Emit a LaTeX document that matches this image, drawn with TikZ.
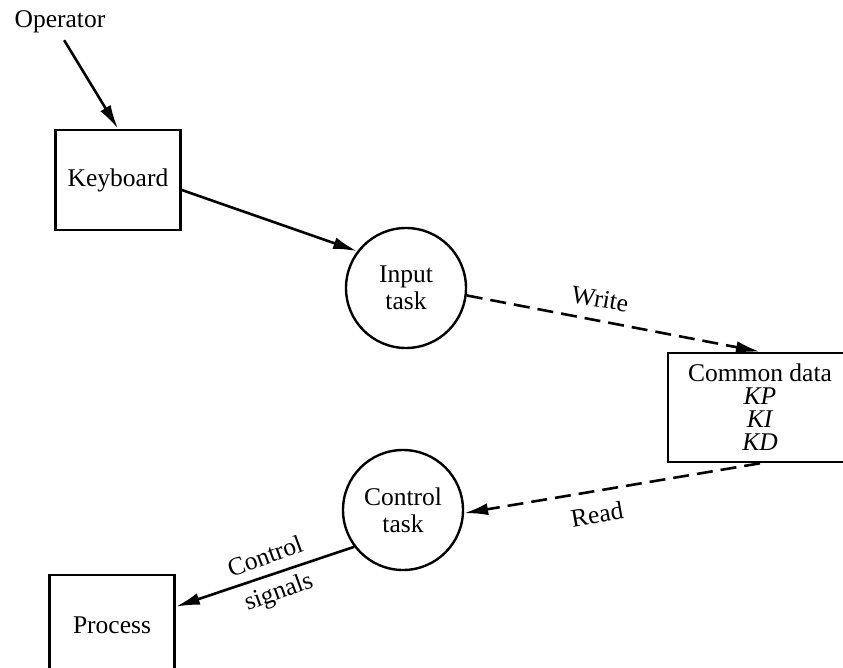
\documentclass[tikz,border=0pt]{standalone}
\usepackage{fontspec}
\setmainfont{Liberation Serif}
\usetikzlibrary{arrows.meta}
\begin{document}
\begin{tikzpicture}[x=1pt,y=-1pt,
  every node/.style={font=\fontsize{25.5}{27}\selectfont},
  box/.style={draw,line width=2.6pt,rectangle,minimum width=125pt,minimum height=100pt,inner sep=0pt},
  task/.style={draw,line width=2.4pt,circle,minimum size=120pt,inner sep=0pt,align=center},
  store/.style={draw,line width=2.6pt,rectangle,minimum width=184pt,minimum height=109pt,inner sep=0pt,align=center,font=\fontsize{25.5}{23}\selectfont},
  flow/.style={line width=2.6pt,-{Latex[length=24pt,width=12pt]}},
  dataflow/.style={flow,dash pattern=on 16pt off 8pt},
  lbl/.style={inner sep=0pt}]
\useasboundingbox (0,0) rectangle (843,668);

% external entities and stores
\node[lbl] (op) at (60,22) {Operator};
\node[box] (kb) at (118,180) {Keyboard};
\node[box] (pr) at (112,625) {Process};
\node[store] (cd) at (760,407.5) {Common data\\\textit{KP}\\\textit{KI}\\\textit{KD}};

% tasks
\node[task] (in) at (406,288) {Input\\task};
\node[task] (ct) at (403,510) {Control\\task};

% flows
\draw[flow,shorten <=8pt] (op.south) -- (kb.north);
\draw[flow] ([yshift=-10pt]kb.east) -- (in.143);
\draw[dataflow] (in.-7) -- (cd.north);
\draw[dataflow] (cd.south) -- (ct.-3);
\draw[flow] (ct.217) -- (pr.16);

% flow labels
\node[lbl,rotate=-10] (wr) at (600,299) {Write};
\node[lbl,rotate=10] (rd) at (597,514) {Read};
\node[lbl,rotate=20] (cs1) at (265,556) {Control};
\node[lbl,rotate=20] (cs2) at (279,593) {signals};
\end{tikzpicture}
\end{document}
